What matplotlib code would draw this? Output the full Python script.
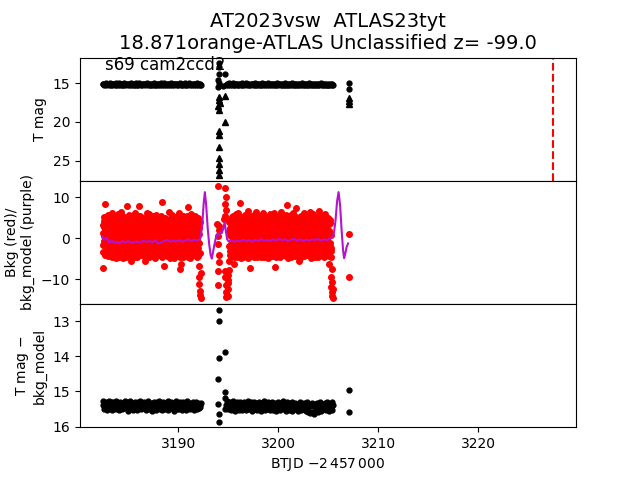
import numpy as np
import matplotlib
matplotlib.use("Agg")
from matplotlib import pyplot as plt

title1 = "AT2023vsw  ATLAS23tyt"
title2 = "18.871orange-ATLAS Unclassified z= -99.0"
sector_label = "s69 cam2ccd2"
t_mark = 3227.55

# segment spans (BTJD - 2457000)
seg1_span = (3182.43, 3192.3)
seg2_span = (3194.8, 3205.5)
red1_span = (3182.43, 3192.25)
red2_span = (3194.95, 3205.45)

# top panel: T mag
mag1 = [15.12, 15.03, 15.21, 15.08, 15.26, 14.99, 15.15, 15.06, 15.23, 15.11, 15.01, 15.18, 15.09, 15.27, 15.04, 15.14, 15.20, 15.00, 15.16, 15.07,
        15.24, 15.10, 15.02, 15.19, 15.13, 15.28, 15.05, 15.17, 14.98, 15.22, 15.09, 15.15, 15.03, 15.25, 15.11, 15.07, 15.20, 15.01, 15.14, 15.23,
        15.06, 15.18, 15.10, 15.27, 15.02, 15.16, 15.08, 15.21, 14.99, 15.13, 15.24, 15.05, 15.19, 15.11, 15.03, 15.26, 15.09, 15.15, 15.00, 15.22,
        15.12, 15.07, 15.18, 15.04, 15.25, 15.10, 15.16, 15.01, 15.20, 15.08, 15.27, 15.13, 15.03, 15.19, 15.06, 15.23, 15.11, 14.98, 15.17, 15.09,
        15.24, 15.02, 15.14, 15.21, 15.07, 15.28, 15.12, 15.04, 15.18, 15.10, 15.00, 15.22, 15.15, 15.06, 15.26, 15.11, 15.03, 15.19, 15.08, 15.23,
        15.13, 15.01, 15.17, 15.09, 15.25, 15.05, 15.20, 15.12, 14.99, 15.16, 15.07, 15.24, 15.10, 15.02, 15.21, 15.14, 15.06, 15.27, 15.11, 15.04,
        15.18, 15.08, 15.22, 15.13, 15.00, 15.19, 15.10, 15.25, 15.05, 15.16]
mag2 = [15.20, 15.05, 15.14, 15.26, 15.01, 15.17, 15.09, 15.23, 15.12, 14.99, 15.19, 15.07, 15.25, 15.10, 15.03, 15.16, 15.21, 15.06, 15.13, 15.28,
        15.02, 15.18, 15.11, 15.24, 15.08, 15.15, 15.00, 15.22, 15.12, 15.05, 15.19, 15.27, 15.09, 15.14, 15.03, 15.21, 15.10, 15.17, 14.98, 15.25,
        15.07, 15.13, 15.20, 15.04, 15.16, 15.23, 15.11, 15.01, 15.18, 15.08, 15.26, 15.12, 15.06, 15.22, 15.15, 15.00, 15.19, 15.09, 15.24, 15.03,
        15.14, 15.27, 15.07, 15.17, 15.11, 15.21, 15.02, 15.15, 15.25, 15.08, 15.12, 15.19, 15.05, 15.23, 15.10, 15.16, 14.99, 15.20, 15.13, 15.28,
        15.06, 15.18, 15.09, 15.24, 15.14, 15.01, 15.21, 15.11, 15.26, 15.07, 15.16, 15.03, 15.19, 15.12, 15.25, 15.08, 15.22, 15.15, 15.00, 15.18,
        15.10, 15.27, 15.05, 15.20, 15.13, 15.23, 15.09, 15.16, 15.02, 15.21, 15.12, 15.26, 15.07, 15.19, 15.14, 15.24, 15.04, 15.17, 15.11, 15.28,
        15.08, 15.22, 15.15, 15.01, 15.25, 15.10, 15.18, 15.06, 15.23, 15.13, 15.27, 15.09, 15.20, 15.16, 15.04, 15.24, 15.12, 15.19, 15.07, 15.22]
gap_mag_t = [3194.1, 3194.1, 3194.05, 3194.65, 3193.95, 3194.0, 3194.5, 3194.1, 3207.1, 3207.1]
gap_mag = [12.4, 12.9, 13.8, 13.8, 14.6, 15.5, 15.3, 15.0, 14.9, 15.7]
lim_t = [3194.65, 3194.65, 3194.1, 3194.05, 3194.15, 3194.0, 3194.1, 3194.1, 3194.05,
         3194.1, 3194.1, 3194.1, 3194.1, 3194.1, 3207.1, 3207.1, 3207.1]
lim_mag = [16.7, 20.0, 16.75, 17.2, 17.6, 18.0, 18.4, 21.2, 21.7, 23.2, 24.7, 25.5,
           26.2, 26.9, 16.9, 17.3, 17.7]

# middle panel: background flux (two interleaved cadences per segment)
bkg1 = [-7.3, 3.2, -1.8, 5.1, 0.4, -3.6, 8.4, 2.2, -4.1, 4.6, -0.9, 1.7, -2.8, 5.6, -4.4, 0.8, 3.9, -1.3, 2.6, -3.2,
        4.8, -0.2, -4.6, 1.9, 6.1, -2.4, 3.4, -3.9, 0.1, 5.3, -1.5, 2.9, -4.8, 4.1, -0.6, 1.2, -3.4, 5.8, -2.1, 3.6,
        -4.2, 0.9, 4.4, -1.1, 2.4, -3.7, 6.3, -0.4, 1.6, -4.9, 3.8, -2.6, 5.2, 0.3, -3.3, 4.9, -1.9, 2.1, -4.5, 7.9,
        1.4, -2.9, 4.3, -0.7, 5.7, -3.8, 2.7, -1.4, 3.3, -5.7, 0.6, 4.7, -2.3, 1.1, 5.4, -4.3, 2.5, -0.3, 3.7, -3.1,
        6.0, -1.7, 2.0, -4.7, 4.5, 0.2, -2.7, 3.1, 7.9, -3.5, 1.8, -0.8, 5.5, -4.0, 2.3, -1.6, 4.0, -3.0, 0.7, 5.0,
        -2.2, 3.5, -4.4, 1.3, -5.5, 4.2, -0.5, 2.8, -3.9, 6.2, 0.0, -2.5, 3.0, -4.6, 5.9, -1.2, 1.5, -3.6, 4.6, -0.1,
        2.6, -4.1, 5.3, -1.0, 3.2, -2.8, 0.5, 4.8, -4.9, 1.9, -0.6, 5.6, -3.4, 2.2, -1.8, 4.4, -4.2, 0.8, 3.6, -2.0,
        5.1, -3.3, 1.0, -1.5, 8.8, 4.1, -4.7, 2.9, -0.2, 3.9, -6.9, 1.7, -2.9, 5.0, -0.9, 2.5, -4.3, 4.3, -1.4, 0.6,
        3.4, -3.7, 6.4, -0.4, 2.0, -4.5, 4.9, -2.4, 1.2, 5.7, -3.0, 0.3, 3.7, -1.9, -4.8, 4.5, -0.8, 2.7, -3.5, 5.2,
        -1.3, 1.6, -4.0, 4.0, -2.6, 6.0, -0.3, 2.4, -7.5, 3.1, -6.3, 0.9, 4.7, -2.2, 1.4, -4.6, 5.4, -1.1, 3.0, -3.8,
        0.4, 4.6, -2.7, 2.1, -4.4, 5.5, -0.7, 3.3, -3.1, 7.6, 1.1, -2.0, 4.2, -4.9, 2.6, -1.6, 5.9, -3.4, 0.2, 3.8,
        -2.9, 4.4, -4.1, 1.8, -0.5, 5.3, -3.6, 2.3, -1.2, 3.5, -4.5, 0.7, 4.9, -2.3, -6.8, -9.5, -11.2, -12.8, -13.9, -14.6]
bkg1b = [1.2, -3.4, 4.1, -0.8, 2.7, -4.2, 0.3, 3.8, -2.1, 5.0, -1.1, 2.2, -3.8, 4.5, 0.9, -2.6, 3.3, -0.1, 1.6, -4.4,
         3.9, -1.6, 0.6, -3.1, 4.8, -0.4, 2.4, -4.0, 1.4, 3.5, -2.3, 5.2, -0.7, 1.9, -3.6, 4.2, 0.0, -1.9, 2.9, -4.6,
         4.4, -2.8, 1.1, -0.3, 3.6, -4.3, 2.0, 5.4, -1.4, 0.7, -3.3, 4.0, -2.0, 2.6, -4.1, 1.3, 4.9, -0.9, 3.1, -2.5,
         0.2, 4.6, -3.7, 1.8, -1.0, 3.4, -4.5, 2.3, 5.1, -0.6, 1.0, -2.9, 4.3, -1.7, 2.8, -3.5, 0.5, 3.7, -4.7, 1.5,
         -0.2, 4.7, -2.4, 2.5, -3.9, 1.2, 5.3, -1.3, 3.0, -4.2, 0.8, 3.9, -2.7, 1.7, -0.5, 4.5, -3.2, 2.1, -1.5, 3.6,
         -4.0, 0.4, 4.1, -2.2, 2.9, -0.9, 5.0, -3.4, 1.4, -1.8, 3.5, -4.6, 0.1, 4.4, -2.6, 2.2, -0.3, 3.2, -3.9, 1.9,
         4.8, -1.2, 2.6, -4.3, 0.9, 3.8, -2.0, 1.3, -3.0, 5.2, -0.7, 2.4, -4.1, 3.4, -1.6, 0.6, 4.2, -2.9, 1.8, -0.1,
         3.1, -3.6, 5.5, -1.0, 2.0, -4.4, 0.3, 4.0, -2.4, 2.7, -0.8, 3.7, -3.3, 1.1, -1.9, 4.7, -4.0, 0.8, 3.3, -2.1,
         1.6, -0.4, 4.3, -3.1, 2.3, -4.8, 0.5, 3.9, -1.4, 5.1, -2.8, 1.0, -0.6, 4.6, -3.7, 2.8, -1.1, 0.2, 3.5, -4.3,
         2.1, 4.9, -2.3, 0.7, -3.8, 3.2, -0.2, 1.5, -4.5, 4.1, -1.7, 2.5, -3.0, 5.3, 0.4, -2.5, 3.0, -0.9, 1.9, -4.1,
         3.8, -1.3, 0.9, -3.5, 4.5, -0.5, 2.9, -2.2, 1.2, -4.6, 3.6, 0.1, -2.7, 4.8, -1.0, 2.2, -3.9, 1.6, 4.2, -0.7,
         -2.0, 3.4, -4.2, 0.6, 5.0, -1.5, 2.6, -3.3, 1.3, 4.4, -0.3, -2.8, 3.1, -4.4, 0.9, 2.4, -1.2, 4.0, -3.6, -8.5]
bkg2 = [-14.1, -12.4, -10.3, -7.8, -5.6, 2.4, -3.1, 4.7, 0.6, -4.4, 3.3, -1.7, 5.4, -2.5, 1.3, -6.3, 4.1, -0.4, 2.8, -3.9,
        5.9, -1.2, 0.8, -4.6, 3.6, -2.2, 6.2, 1.5, -3.5, 4.4, 8.5, -0.9, 2.2, -4.8, 5.1, -1.8, 3.0, -3.0, 0.1, 4.8,
        -2.7, 1.9, -4.2, 5.6, -0.6, 3.8, -3.7, 2.5, -1.4, 6.5, -4.9, 0.4, 4.2, -2.4, 1.0, -7.2, 5.3, -1.0, 3.4, -3.3,
        0.7, 4.9, -2.8, 2.0, -4.3, 5.7, -0.2, 3.1, -3.8, 1.6, 6.3, -1.9, 4.5, -4.7, 2.7, -0.8, 5.0, -3.2, 1.2, 3.9,
        -2.1, 5.5, -4.5, 0.9, 3.5, -1.6, 6.0, -3.6, 2.3, -0.3, 4.6, -4.1, 1.4, -2.6, 5.2, 0.0, -3.4, 3.7, -1.1, 2.9,
        -4.8, 4.3, -0.7, 1.8, -3.0, 5.8, -2.3, 3.2, -4.4, 0.5, 4.0, -1.5, 2.6, -3.9, 6.1, -0.5, 1.1, -7.0, 4.7, -2.0,
        3.0, -4.0, 5.4, -1.3, 2.1, -3.5, 0.3, 4.9, -2.9, 1.7, -4.6, 6.4, -0.1, 3.6, -3.1, 2.4, -1.7, 5.1, -4.2, 0.8,
        4.4, -2.5, 1.5, -3.8, 5.6, -0.9, 2.8, 8.0, -4.9, 3.3, -1.0, 0.6, 4.1, -3.3, 1.9, -2.1, 5.7, -4.1, 2.2, -0.4,
        3.8, -3.6, 6.2, -1.4, 0.9, -4.3, 4.6, -2.7, 7.3, 1.3, -0.6, 5.0, -3.7, 2.5, -1.9, 4.3, -5.7, 0.2, 3.5, -2.4,
        5.3, -4.7, 1.6, -0.2, 4.0, -3.2, 2.9, -1.6, 6.0, -4.4, 0.7, 3.9, -2.2, 1.2, -3.9, 5.5, -1.1, 2.6, -4.0, 4.8,
        -0.5, 2.0, -3.4, 6.3, -1.8, 3.4, -4.8, 1.0, 4.5, -2.6, 0.4, 5.8, -3.1, 2.3, -1.2, 4.2, -4.5, 0.1, 3.1, -2.8,
        5.1, -0.7, 2.7, -3.9, 1.4, 6.6, -2.0, 4.7, -4.2, 0.8, 3.6, -1.5, 5.4, -3.5, 2.1, -0.3, 4.4, -4.6, 1.7, 3.2,
        -2.3, 5.9, -1.0, 2.4, -4.1, 4.1, -2.9, 0.5, 5.0, -3.6, 1.8, -6.2, 3.7, -1.9, -4.7, -9.5, -11.8, -13.1, -14.2, -14.7]
bkg2b = [-11.0, -8.9, 1.8, -2.0, 3.9, -4.1, 0.7, 4.6, -1.5, 2.4, -3.7, 5.1, -0.3, 1.4, -2.9, 3.6, -4.5, 0.9, 4.3, -1.8,
         2.2, -3.2, 5.3, -0.6, 1.7, -4.3, 3.1, -1.2, 0.4, 4.8, -2.5, 2.9, -3.9, 1.1, 4.0, -0.9, 2.6, -4.6, 0.2, 3.5,
         -2.2, 4.5, -1.0, 1.9, -3.4, 5.0, -0.1, 2.3, -4.0, 3.3, -1.6, 0.8, 4.7, -2.8, 1.5, -3.6, 3.8, -0.5, 2.0, -4.4,
         4.2, -1.4, 0.5, -3.0, 3.0, -4.7, 1.8, 5.2, -2.1, 2.7, -0.8, 3.7, -3.5, 1.0, 4.4, -1.9, 0.3, -4.2, 3.2, 1.3,
         -2.6, 4.9, -0.4, 2.2, -3.8, 1.6, 5.4, -1.1, 3.4, -4.5, 0.6, 2.8, -2.4, 4.1, -0.7, 1.2, -3.3, 3.9, -1.7, 0.0,
         4.6, -3.1, 2.5, -0.2, 3.6, -4.1, 1.4, -1.9, 5.1, -2.7, 0.8, 3.0, -4.4, 2.1, -0.6, 4.3, -3.4, 1.7, -1.3, 3.8,
         -4.6, 0.4, 2.9, -2.2, 4.7, -0.9, 1.9, -3.7, 3.3, -1.5, 5.3, -0.1, 2.4, -4.0, 1.0, 3.7, -2.6, 0.6, 4.5, -3.2,
         1.5, -1.1, 3.9, -4.3, 2.6, -0.4, 5.0, -2.3, 0.9, 3.2, -3.6, 1.8, -0.8, 4.2, -2.0, 2.3, -4.7, 0.2, 3.6, -1.6,
         2.8, -3.0, 4.8, -0.5, 1.3, -4.2, 3.4, -1.8, 0.7, 5.2, -2.9, 2.0, -0.2, 4.0, -3.8, 1.6, -1.2, 3.1, -4.5, 0.5,
         4.4, -2.1, 1.1, -3.4, 3.8, -0.7, 2.5, -4.1, 0.3, 4.9, -1.4, 2.8, -3.1, 1.9, -0.3, 5.1, -2.5, 0.8, 3.4, -4.0,
         1.2, 3.9, -1.7, 0.1, -3.5, 4.6, -0.6, 2.2, -4.4, 3.0, -2.0, 1.5, 5.0, -1.0, 2.7, -3.9, 0.4, 4.1, -2.7, 1.8,
         -0.4, 3.3, -4.6, 2.4, -1.5, 4.7, -3.0, 0.9, 3.6, -2.3, 1.4, -0.8, 5.2, -3.6, 2.0, -1.3, 4.3, -4.2, 0.6, 3.0,
         -1.9, 4.0, -0.2, 2.6, -3.7, 1.1, 4.8, -2.6, 0.3, 3.5, -4.3, 1.7, -1.1, 4.4, -2.4, 0.8, -3.2, -7.5, -10.6, -12.5]
gap_bkg_t = [3193.85, 3194.0, 3194.0, 3194.05, 3194.1, 3194.0, 3193.95, 3194.05, 3194.0, 3194.1,
             3194.6, 3194.7, 3194.75, 3194.7, 3194.75, 3194.65, 3194.7, 3194.75, 3194.8, 3194.7,
             3194.8, 3207.1, 3207.1]
gap_bkg = [3.5, 12.6, -1.4, 1.9, -4.0, -7.9, -11.5, -5.8, 0.5, 3.0,
           4.7, 12.3, 10.0, 8.4, 6.8, -8.0, -9.5, -11.5, -13.2, 5.5,
           -14.4, 1.1, -9.5]

model_t = [3182.43, 3182.6, 3182.85, 3183.1, 3183.35, 3183.6, 3183.85, 3184.1, 3184.4, 3184.7,
           3185.0, 3185.3, 3185.6, 3185.9, 3186.2, 3186.5, 3186.8, 3187.1, 3187.4, 3187.7,
           3188.0, 3188.3, 3188.6, 3188.9, 3189.2, 3189.5, 3189.8, 3190.1, 3190.4, 3190.7,
           3191.0, 3191.3, 3191.6, 3191.9, 3192.2,
           3192.4, 3192.55, 3192.67, 3192.8, 3192.95, 3193.1, 3193.25, 3193.37, 3193.5, 3193.65,
           3193.8, 3193.95, 3194.05, 3194.2, 3194.35, 3194.5, 3194.65, 3194.78, 3194.9, 3195.05,
           3195.3, 3195.6, 3195.9, 3196.2, 3196.5, 3196.8, 3197.1, 3197.4, 3197.7, 3198.0,
           3198.3, 3198.6, 3198.9, 3199.2, 3199.5, 3199.8, 3200.1, 3200.4, 3200.7, 3201.0,
           3201.3, 3201.6, 3201.9, 3202.2, 3202.5, 3202.8, 3203.1, 3203.4, 3203.7, 3204.0,
           3204.3, 3204.6, 3204.9, 3205.2, 3205.45,
           3205.6, 3205.75, 3205.9, 3206.05, 3206.2, 3206.35, 3206.5, 3206.6, 3206.7, 3206.85, 3207.0]
model_v = [0.3, -0.4, 0.1, -1.1, -0.6, -1.2, -0.9, -1.3, -0.8, -1.1,
           -0.7, -1.2, -1.0, -0.8, -1.1, -0.6, -0.9, -0.7, -1.0, -0.5,
           -1.3, -1.1, -0.7, -0.4, -0.9, -0.6, -0.8, -0.5, -0.9, -0.6,
           -0.3, -0.7, -0.4, -0.6, -0.2,
           3.0, 8.5, 11.2, 8.0, 2.5, -1.5, -4.2, -5.0, -3.2, -1.3,
           0.4, 1.1, 0.6, 1.4, 1.2, 2.2, 3.9, 1.5, -0.3, -0.8,
           -0.5, -0.9, -0.6, -0.8, -0.4, -0.7, -0.5, -0.9, -0.4, -0.7,
           -0.3, -0.6, -0.4, -0.7, -0.3, -0.6, -0.2, -0.5, -0.3, -0.7,
           -0.4, -0.2, -0.6, -0.3, -0.7, -0.4, -0.6, -0.3, -0.5, -0.2,
           -0.6, -0.3, -0.5, -0.1, 0.3,
           1.5, 4.5, 9.0, 11.2, 8.0, 2.0, -3.0, -4.9, -4.0, -2.2, -1.3]

# bottom panel: T mag - bkg_model
diff1 = [15.38, 15.27, 15.49, 15.33, 15.44, 15.29, 15.52, 15.36, 15.41, 15.26, 15.47, 15.31, 15.54, 15.39, 15.30, 15.45, 15.35, 15.50, 15.28, 15.42,
         15.34, 15.53, 15.40, 15.29, 15.46, 15.37, 15.51, 15.32, 15.43, 15.27, 15.48, 15.38, 15.30, 15.55, 15.35, 15.44, 15.28, 15.49, 15.41, 15.33,
         15.52, 15.36, 15.45, 15.29, 15.40, 15.54, 15.31, 15.47, 15.37, 15.26, 15.50, 15.42, 15.34, 15.48, 15.30, 15.44, 15.39, 15.53, 15.32, 15.46,
         15.28, 15.51, 15.38, 15.43, 15.33, 15.55, 15.36, 15.29, 15.47, 15.40, 15.52, 15.31, 15.45, 15.37, 15.27, 15.49, 15.42, 15.34, 15.54, 15.30,
         15.46, 15.39, 15.50, 15.32, 15.44, 15.28, 15.53, 15.36, 15.41, 15.48, 15.30, 15.45, 15.38, 15.55, 15.33, 15.43, 15.27, 15.51, 15.40, 15.35,
         15.49, 15.31, 15.46, 15.37, 15.52, 15.29, 15.42, 15.47, 15.34, 15.54, 15.39, 15.28, 15.44, 15.36, 15.50, 15.32, 15.48, 15.41, 15.30, 15.53,
         15.37, 15.45, 15.29, 15.51, 15.40, 15.34, 15.47, 15.38, 15.43, 15.33]
diff2 = [15.40, 15.28, 15.51, 15.35, 15.46, 15.30, 15.53, 15.38, 15.43, 15.27, 15.49, 15.33, 15.55, 15.41, 15.31, 15.47, 15.36, 15.52, 15.29, 15.44,
         15.37, 15.54, 15.42, 15.30, 15.48, 15.39, 15.52, 15.33, 15.45, 15.28, 15.50, 15.40, 15.31, 15.56, 15.36, 15.46, 15.29, 15.51, 15.43, 15.34,
         15.53, 15.38, 15.47, 15.30, 15.42, 15.55, 15.32, 15.49, 15.39, 15.27, 15.52, 15.44, 15.35, 15.50, 15.31, 15.46, 15.41, 15.54, 15.33, 15.48,
         15.29, 15.53, 15.40, 15.45, 15.34, 15.56, 15.37, 15.30, 15.49, 15.42, 15.54, 15.32, 15.47, 15.38, 15.28, 15.51, 15.44, 15.35, 15.55, 15.31,
         15.48, 15.41, 15.52, 15.34, 15.46, 15.30, 15.55, 15.38, 15.43, 15.50, 15.32, 15.47, 15.40, 15.57, 15.35, 15.45, 15.29, 15.53, 15.42, 15.37,
         15.51, 15.33, 15.48, 15.39, 15.56, 15.31, 15.44, 15.58, 15.36, 15.62, 15.41, 15.33, 15.59, 15.38, 15.63, 15.35, 15.57, 15.45, 15.32, 15.60,
         15.40, 15.49, 15.31, 15.55, 15.43, 15.36, 15.51, 15.39, 15.46, 15.34, 15.53, 15.30, 15.48, 15.41, 15.56, 15.35, 15.45, 15.29, 15.52, 15.40]
gap_diff_t = [3194.1, 3194.1, 3194.1, 3194.65, 3194.0, 3194.65, 3194.0, 3194.1, 3194.1,
              3194.65, 3194.7, 3207.1, 3207.1]
gap_diff = [12.67, 12.99, 14.04, 13.89, 14.64, 15.03, 15.35, 15.63, 15.86,
            15.2, 15.5, 14.95, 15.58]

t_mag1 = np.linspace(*seg1_span, len(mag1))
t_mag2 = np.linspace(*seg2_span, len(mag2))
t_bkg1 = np.linspace(*red1_span, len(bkg1))
t_bkg1b = np.linspace(red1_span[0] + 0.02, red1_span[1], len(bkg1b))
t_bkg2 = np.linspace(*red2_span, len(bkg2))
t_bkg2b = np.linspace(red2_span[0] + 0.02, red2_span[1], len(bkg2b))

fig, axes = plt.subplots(3, 1, sharex=True, figsize=(6.4, 4.8), dpi=100)
fig.subplots_adjust(hspace=0)
ax1, ax2, ax3 = axes

ax1.plot(t_mag1, mag1, 'ko', ms=3.5)
ax1.plot(t_mag2, mag2, 'ko', ms=3.5)
ax1.plot(gap_mag_t, gap_mag, 'ko', ms=3.5)
ax1.plot(lim_t, lim_mag, 'k^', ms=5)
ax1.axvline(t_mark, color='r', ls='--', lw=1.5)
ax1.invert_yaxis()
ax1.set_ylabel('T mag')
ax1.text(0.05, 0.9, sector_label, transform=ax1.transAxes, fontsize=12)
ax1.set_title(title1 + "\n" + title2, fontsize=14)

ax2.plot(t_bkg1, bkg1, 'ro', ms=4)
ax2.plot(t_bkg1b, bkg1b, 'ro', ms=4)
ax2.plot(t_bkg2, bkg2, 'ro', ms=4)
ax2.plot(t_bkg2b, bkg2b, 'ro', ms=4)
ax2.plot(gap_bkg_t, gap_bkg, 'ro', ms=4)
ax2.plot(model_t, model_v, color='#b414cc', lw=1.5)
ax2.set_ylabel('Bkg (red)/\nbkg_model (purple)')

ax3.plot(t_mag1, diff1, 'ko', ms=3.5)
ax3.plot(t_mag2, diff2, 'ko', ms=3.5)
ax3.plot(gap_diff_t, gap_diff, 'ko', ms=3.5)
ax3.invert_yaxis()
ax3.set_ylabel('T mag $-$\nbkg_model')
ax3.set_xlabel('BTJD $-2\\,457\\,000$')

fig.savefig('out.png', dpi=100)
